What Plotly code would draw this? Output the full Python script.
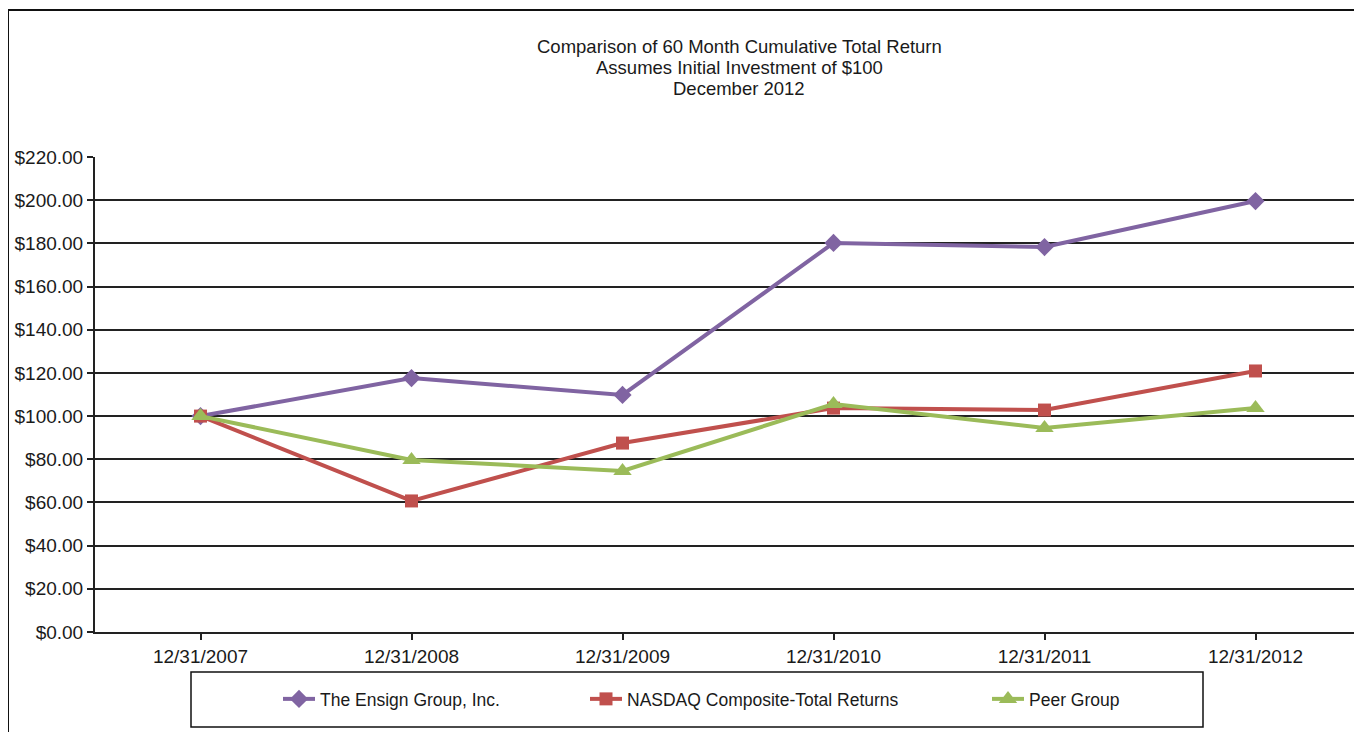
import plotly.graph_objects as go

categories = ["12/31/2007", "12/31/2008", "12/31/2009", "12/31/2010", "12/31/2011", "12/31/2012"]
ensign = [100.00, 117.60, 109.80, 180.20, 178.30, 199.60]
nasdaq = [100.00, 60.70, 87.50, 103.70, 102.80, 120.90]
peer = [100.00, 79.70, 74.60, 105.60, 94.50, 103.70]
series_names = ["The Ensign Group, Inc.", "NASDAQ Composite-Total Returns", "Peer Group"]
title_lines = ["Comparison of 60 Month Cumulative Total Return",
               "Assumes Initial Investment of $100",
               "December 2012"]

# page offset (browser body margin)
OX, OY = 8, 8
W, H = 1362 - OX, 732 - OY
L, R, T, B = 95 - OX, 1, 157 - OY, 100
PW, PH = W - L - R, H - T - B

def px(x):
    return (x - OX - L) / PW

def py(y):
    return (H - B - (y - OY)) / PH

FONT = "Liberation Sans, Arial, sans-serif"
TXT = "#1a1a1a"

fig = go.Figure()
fig.add_trace(go.Scatter(x=categories, y=ensign, name=series_names[0], mode="lines+markers",
                         line=dict(color="#8064A2", width=4),
                         marker=dict(symbol="diamond", size=14, color="#8064A2"),
                         legend="legend"))
fig.add_trace(go.Scatter(x=categories, y=nasdaq, name=series_names[1], mode="lines+markers",
                         line=dict(color="#C0504D", width=4),
                         marker=dict(symbol="square", size=13, color="#C0504D"),
                         legend="legend2"))
fig.add_trace(go.Scatter(x=categories, y=peer, name=series_names[2], mode="lines+markers",
                         line=dict(color="#9BBB59", width=4),
                         marker=dict(symbol="triangle-up", size=16, color="#9BBB59"),
                         legend="legend3"))

leg_common = dict(yanchor="middle", xanchor="left", y=py(699), bgcolor="rgba(0,0,0,0)",
                  borderwidth=0, font=dict(family=FONT, size=17.5, color=TXT), itemwidth=32)

title_ys = [46, 68, 89]
annotations = [dict(text=t, x=px(739), y=py(yy), xref="paper", yref="paper",
                    xanchor="center", yanchor="middle", showarrow=False,
                    font=dict(family=FONT, size=18.5, color=TXT))
               for t, yy in zip(title_lines, title_ys)]

fig.update_layout(
    width=W, height=H,
    margin=dict(l=L, r=R, t=T, b=B),
    paper_bgcolor="white", plot_bgcolor="white",
    font=dict(family=FONT, size=17, color=TXT),
    showlegend=True,
    legend=dict(x=px(278), **leg_common),
    legend2=dict(x=px(585), **leg_common),
    legend3=dict(x=px(987), **leg_common),
    xaxis=dict(type="category", range=[-0.5, 5.5], showgrid=False,
               showline=True, linecolor="#222", linewidth=2,
               ticks="outside", ticklen=6, tickcolor="#222", tickwidth=1.5,
               tickfont=dict(family=FONT, size=19, color=TXT), fixedrange=True),
    yaxis=dict(range=[0, 220], dtick=20, tick0=0, tickprefix="$", tickformat=".2f",
               showgrid=True, gridcolor="#222", gridwidth=1.5,
               showline=True, linecolor="#222", linewidth=2,
               ticks="outside", ticklen=6, tickcolor="#222", tickwidth=1.5,
               zeroline=False,
               tickfont=dict(family=FONT, size=19, color=TXT), fixedrange=True),
    annotations=annotations,
    shapes=[
        dict(type="rect", xref="paper", yref="paper", x0=px(8), x1=px(1361), y0=py(750), y1=py(10),
             line=dict(color="#111", width=2), fillcolor="rgba(0,0,0,0)", layer="below"),
        dict(type="rect", xref="paper", yref="paper", x0=px(191), x1=px(1203), y0=py(727), y1=py(672),
             line=dict(color="#111", width=1.5), fillcolor="rgba(0,0,0,0)", layer="below"),
    ],
)

fig.write_html("out.html")
